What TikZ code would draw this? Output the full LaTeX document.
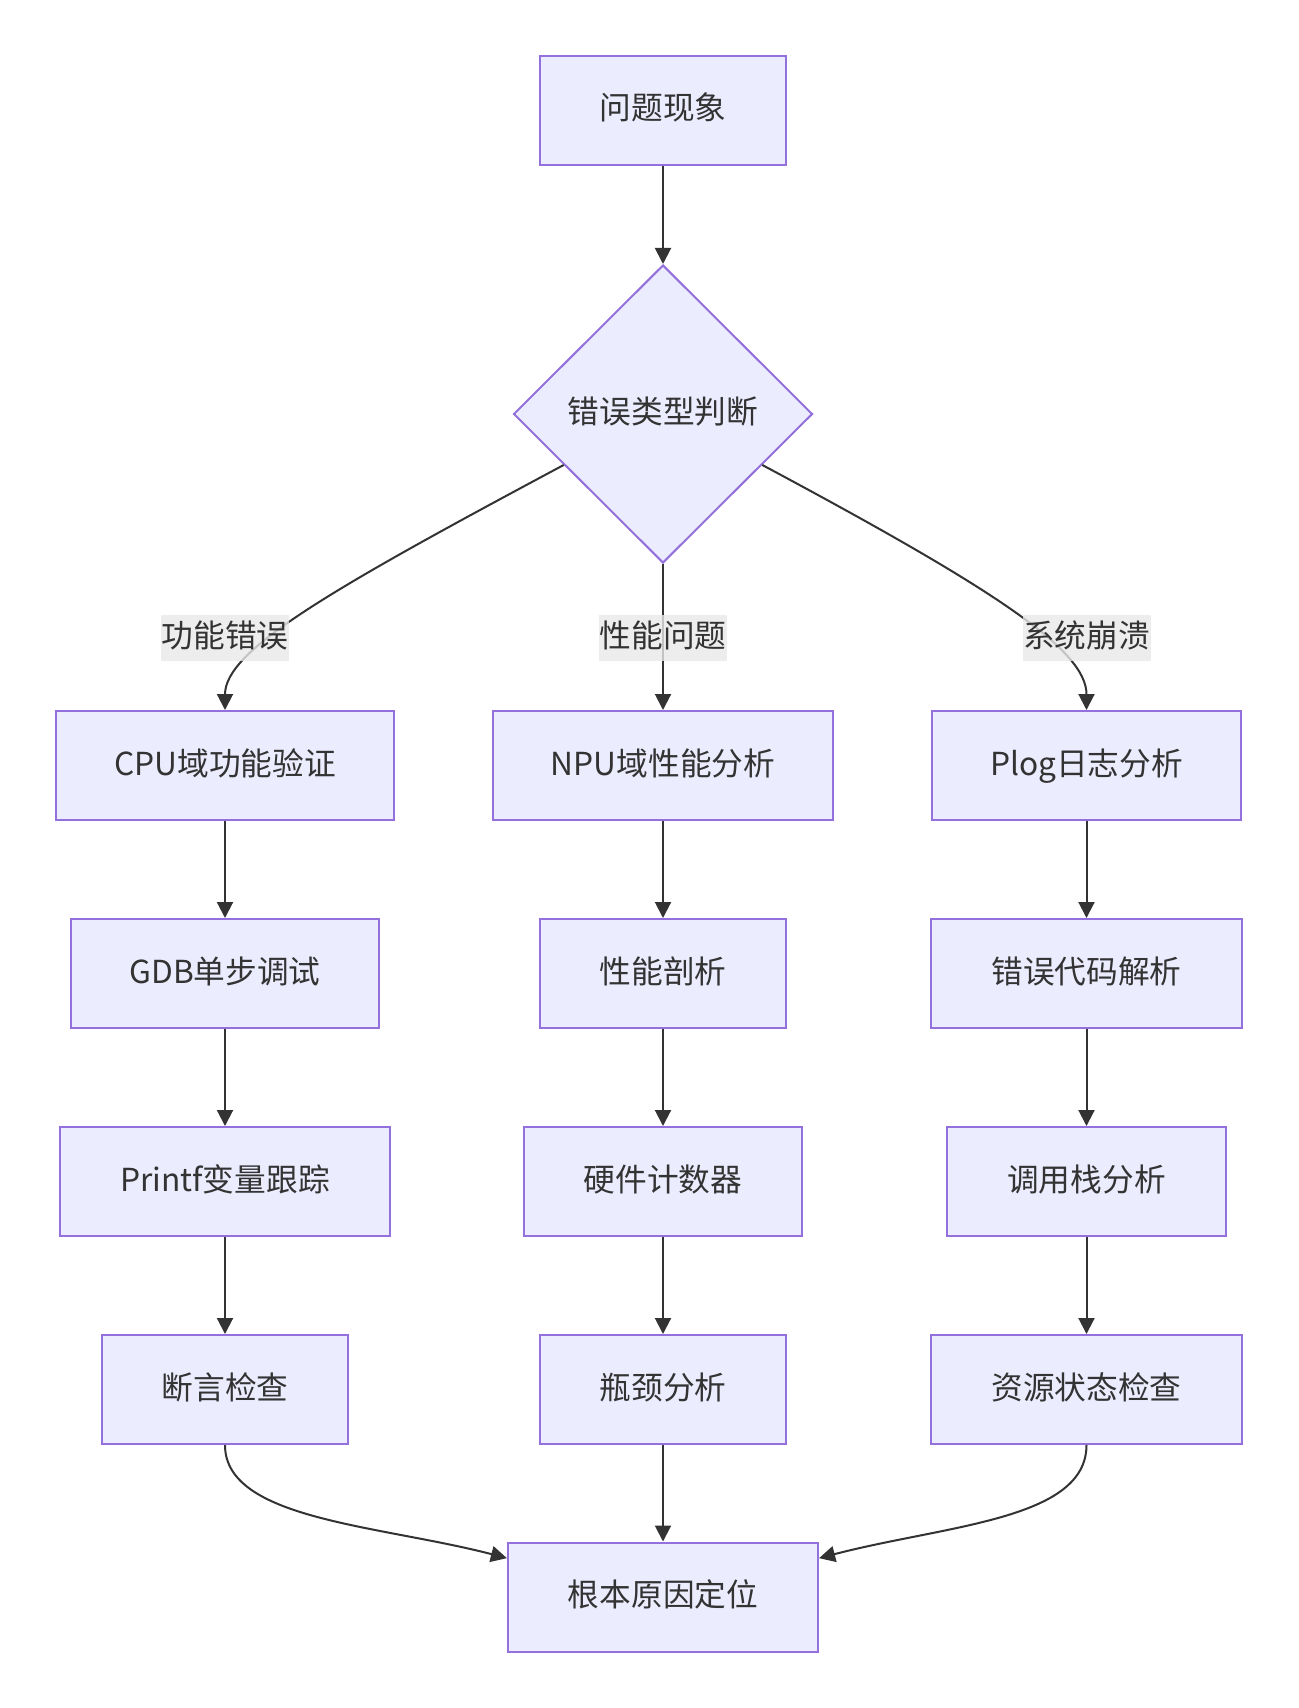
\documentclass[tikz,border=0pt]{standalone}
\usepackage{fontspec}
\setmainfont{Noto Sans CJK SC}
\usetikzlibrary{shapes.geometric,arrows.meta,calc}

\definecolor{boxfill}{HTML}{ECECFF}
\definecolor{boxline}{HTML}{9370DB}
\definecolor{ink}{HTML}{333333}
\definecolor{lblbg}{HTML}{E8E8E8}

\newcommand{\chartfont}{\fontsize{15.85pt}{19pt}\selectfont}

\tikzset{
  box/.style={draw=boxline, fill=boxfill, line width=1pt, minimum height=54.5pt,
    inner xsep=30pt, text height=13pt, text depth=3.2pt, text=ink, font=\chartfont},
  choice/.style={diamond, draw=boxline, fill=boxfill, line width=1pt,
    minimum width=149.5pt, minimum height=149pt, inner sep=0pt,
    text height=13pt, text depth=3.2pt, text=ink, font=\chartfont},
  lbl/.style={fill=lblbg, fill opacity=0.8, text opacity=1, text=ink, inner xsep=0.3pt,
    inner ysep=0pt, minimum height=23pt, text height=13pt, text depth=3.2pt, font=\chartfont},
  link/.style={draw=ink, line width=1pt, -{Triangle[length=8pt,width=8pt]}},
}

\begin{document}
\begin{tikzpicture}[x=0.5pt, y=-0.5pt]

\useasboundingbox (0,0) rectangle (1299,1708);

% top
\node[box] (issue) at (663,110) {问题现象};
\node[choice] (judge) at (663,414) {错误类型判断};

% left column
\node[box, inner xsep=29pt] (cpu) at (225,765.5) {CPU域功能验证};
\node[box, inner xsep=29pt] (gdb) at (225,973.5) {GDB单步调试};
\node[box] (pf) at (225,1181.5) {Printf变量跟踪};
\node[box] (chk) at (225,1389.5) {断言检查};

% middle column
\node[box, inner xsep=29pt] (npu) at (663,765.5) {NPU域性能分析};
\node[box] (prof) at (663,973.5) {性能剖析};
\node[box] (hwc) at (663,1181.5) {硬件计数器};
\node[box] (neck) at (663,1389.5) {瓶颈分析};

% right column
\node[box, inner xsep=29pt] (plog) at (1086.5,765.5) {Plog日志分析};
\node[box] (errc) at (1086.5,973.5) {错误代码解析};
\node[box] (stack) at (1086.5,1181.5) {调用栈分析};
\node[box] (res) at (1086.5,1389.5) {资源状态检查};

\node[box] (root) at (663,1597) {根本原因定位};

\draw[link] (issue) -- (judge);

%judge - - branches
\draw[link] ($(judge.west)!0.34!(judge.south)$) .. controls (330,590) and (225,650) .. (cpu.north);
\draw[link] (judge.south) -- (npu.north);
\draw[link] ($(judge.east)!0.34!(judge.south)$) .. controls (996,590) and (1086.5,650) .. (plog.north);

\draw[link] (cpu) -- (gdb);
\draw[link] (gdb) -- (pf);
\draw[link] (pf) -- (chk);

\draw[link] (npu) -- (prof);
\draw[link] (prof) -- (hwc);
\draw[link] (hwc) -- (neck);

\draw[link] (plog) -- (errc);
\draw[link] (errc) -- (stack);
\draw[link] (stack) -- (res);

% into root
\draw[link] (chk.south) .. controls (225,1520) and (380,1525) .. ($(root.north west)!0.15!(root.south west)$);
\draw[link] (neck) -- (root);
\draw[link] (res.south) .. controls (1086.5,1520) and (946,1525) .. ($(root.north east)!0.15!(root.south east)$);

% edge labels
\node[lbl] (lf) at (225,638) {功能错误};
\node[lbl] (lp) at (663,638) {性能问题};
\node[lbl] (ls) at (1086.5,638) {系统崩溃};

\end{tikzpicture}
\end{document}
